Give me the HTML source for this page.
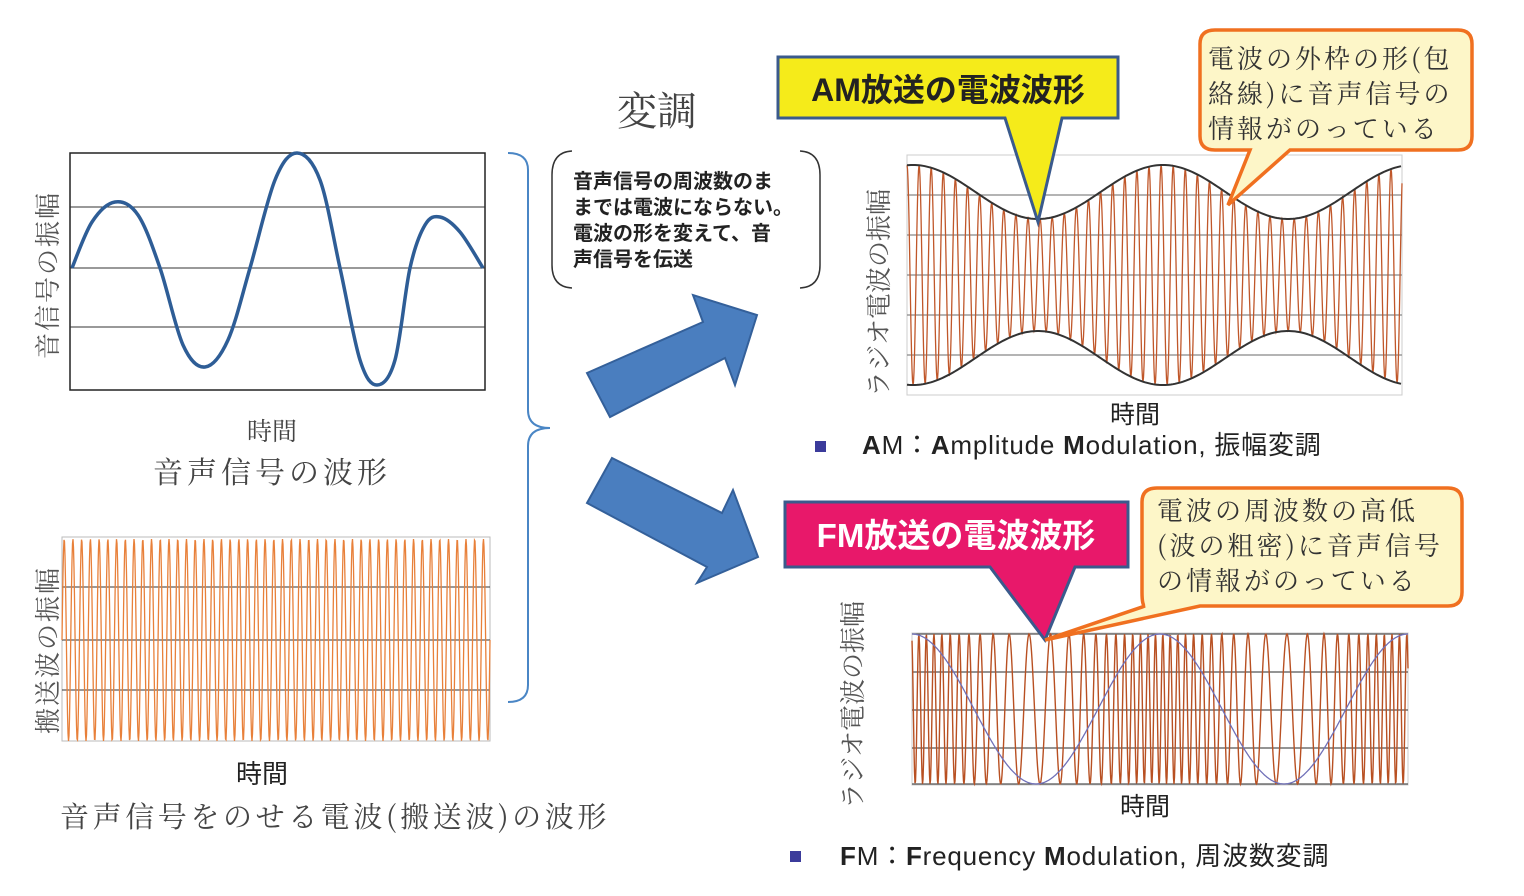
<!DOCTYPE html>
<html><head><meta charset="utf-8"><style>
body{margin:0;background:#fff;width:1524px;height:896px;overflow:hidden}
svg{display:block}
text{font-family:"Liberation Sans","Noto Sans CJK JP",sans-serif}
.s{font-family:"Noto Serif CJK SC","Noto Sans CJK JP",serif}
</style></head><body>
<svg id="sv" width="1524" height="896" xmlns="http://www.w3.org/2000/svg">
<rect x="70" y="153" width="415" height="237" fill="#fff" stroke="#222" stroke-width="1.5"/>
<g stroke="#333" stroke-width="1"><line x1="70" y1="207" x2="485" y2="207"/><line x1="70" y1="268" x2="485" y2="268"/><line x1="70" y1="327" x2="485" y2="327"/></g>
<path id="p1" fill="none" stroke="#2e5d96" stroke-width="3.5"/>
<text class="s" x="57" y="275" font-size="26" fill="#555" transform="rotate(-90 57 275)" text-anchor="middle" letter-spacing="2">音信号の振幅</text>
<text class="s" x="272" y="440" font-size="25" fill="#444" text-anchor="middle">時間</text>
<text class="s" x="272" y="483" font-size="30" fill="#444" text-anchor="middle" letter-spacing="4">音声信号の波形</text>
<rect x="62" y="537" width="428" height="204" fill="#fff" stroke="#bbb" stroke-width="1"/>
<g stroke="#333" stroke-width="1"><line x1="62" y1="587" x2="490" y2="587"/><line x1="62" y1="640" x2="490" y2="640"/><line x1="62" y1="690" x2="490" y2="690"/></g>
<path id="p2" fill="none" stroke="#e8803a" stroke-width="1.3"/>
<text class="s" x="57" y="650" font-size="26" fill="#555" transform="rotate(-90 57 650)" text-anchor="middle" letter-spacing="2">搬送波の振幅</text>
<text x="262" y="783" font-size="26" fill="#222" text-anchor="middle">時間</text>
<text class="s" x="60" y="827" font-size="29" fill="#444" letter-spacing="3.6">音声信号をのせる電波(搬送波)の波形</text>
<path d="M508 153 Q528 153 528 170 L528 410 Q528 428 550 428 Q528 428 528 446 L528 685 Q528 702 508 702" fill="none" stroke="#4a86c5" stroke-width="2"/>
<text class="s" x="657" y="125" font-size="40" fill="#444" text-anchor="middle">変調</text>
<path d="M572 151 Q552 152 552 175 L552 265 Q552 287 572 288 M800 151 Q820 152 820 175 L820 265 Q820 287 800 288" fill="none" stroke="#333" stroke-width="1.5"/>
<g font-size="20" fill="#222" font-weight="bold"><text x="573" y="188">音声信号の周波数のま</text><text x="573" y="214">までは電波にならない。</text><text x="573" y="240">電波の形を変えて、音</text><text x="573" y="266">声信号を伝送</text></g>
<polygon points="587,373 703,322 693,295 757,315 735,385 725,358 610,417" fill="#4a7ebf" stroke="#34609a" stroke-width="2"/>
<polygon points="612,458 722,513 733,490 758,557 697,583 707,567 587,503" fill="#4a7ebf" stroke="#34609a" stroke-width="2"/>
<rect x="907" y="155" width="495" height="240" fill="#fff" stroke="#ccc"/>
<g stroke="#888" stroke-width="1.2"><line x1="907" y1="195" x2="1402" y2="195"/><line x1="907" y1="235" x2="1402" y2="235"/><line x1="907" y1="275" x2="1402" y2="275"/><line x1="907" y1="315" x2="1402" y2="315"/><line x1="907" y1="355" x2="1402" y2="355"/></g>
<path id="p3" fill="none" stroke="#c0572a" stroke-width="1.3"/>
<path id="p4" fill="none" stroke="#333" stroke-width="2"/>
<text class="s" x="888" y="293" font-size="26" fill="#555" transform="rotate(-90 888 293)" text-anchor="middle">ラジオ電波の振幅</text>
<text x="1135" y="423" font-size="25" fill="#222" text-anchor="middle">時間</text>
<rect x="815" y="441" width="11" height="11" fill="#3b3b9b"/>
<text x="862" y="454" font-size="26" fill="#222" letter-spacing="0.8"><tspan font-weight="bold">A</tspan>M：<tspan font-weight="bold">A</tspan>mplitude <tspan font-weight="bold">M</tspan>odulation, 振幅変調</text>
<path d="M778 57 H1118 V118 H1062 L1038 222 L1005 118 H778 Z" fill="#f5eb1a" stroke="#3a5a8c" stroke-width="3"/>
<text x="948" y="101" font-size="32" font-weight="bold" fill="#222" text-anchor="middle">AM放送の電波波形</text>
<path d="M1215 30 H1458 Q1472 30 1472 44 V136 Q1472 150 1458 150 H1290 L1228 205 L1250 150 H1215 Q1200 150 1200 136 V44 Q1200 30 1215 30 Z" fill="#fdf6c8" stroke="#f07020" stroke-width="3.5"/>
<g font-size="26" fill="#333" letter-spacing="3"><text x="1208" y="68" class="s">電波の外枠の形(包</text><text x="1208" y="103" class="s">絡線)に音声信号の</text><text x="1208" y="138" class="s">情報がのっている</text></g>
<rect x="912" y="633" width="496" height="152" fill="#fff" stroke="#ccc"/>
<g stroke="#555" stroke-width="1.2"><line x1="912" y1="672" x2="1408" y2="672"/><line x1="912" y1="710" x2="1408" y2="710"/><line x1="912" y1="748" x2="1408" y2="748"/><line x1="912" y1="634" x2="1408" y2="634"/><line x1="912" y1="784" x2="1408" y2="784"/></g>
<path id="p5" fill="none" stroke="#b85022" stroke-width="1.4"/>
<path id="p6" fill="none" stroke="#7070b8" stroke-width="1.3"/>
<text class="s" x="862" y="705" font-size="26" fill="#555" transform="rotate(-90 862 705)" text-anchor="middle">ラジオ電波の振幅</text>
<text x="1145" y="815" font-size="25" fill="#222" text-anchor="middle">時間</text>
<rect x="790" y="851" width="11" height="11" fill="#3b3b9b"/>
<text x="840" y="865" font-size="26" fill="#222" letter-spacing="0.8"><tspan font-weight="bold">F</tspan>M：<tspan font-weight="bold">F</tspan>requency <tspan font-weight="bold">M</tspan>odulation, 周波数変調</text>
<path d="M785 502 H1128 V567 H1075 L1045 640 L990 567 H785 Z" fill="#e8186a" stroke="#3a5a8c" stroke-width="3"/>
<text x="956" y="547" font-size="33" font-weight="bold" fill="#fff" text-anchor="middle">FM放送の電波波形</text>
<path d="M1157 488 H1448 Q1462 488 1462 502 V592 Q1462 606 1448 606 H1200 L1045 640 L1145 606 Q1142 606 1142 592 V502 Q1142 488 1157 488 Z" fill="#fdf6c8" stroke="#f07020" stroke-width="3.5"/>
<g font-size="26" fill="#333" letter-spacing="3"><text class="s" x="1157" y="520">電波の周波数の高低</text><text class="s" x="1157" y="555">(波の粗密)に音声信号</text><text class="s" x="1157" y="590">の情報がのっている</text></g>
</svg>
<script>
function cr(pts){let d="M"+pts[0][0]+" "+pts[0][1];for(let i=0;i<pts.length-1;i++){const p0=pts[i-1]||pts[i],p1=pts[i],p2=pts[i+1],p3=pts[i+2]||p2;d+=" C"+(p1[0]+(p2[0]-p0[0])/6).toFixed(1)+" "+(p1[1]+(p2[1]-p0[1])/6).toFixed(1)+" "+(p2[0]-(p3[0]-p1[0])/6).toFixed(1)+" "+(p2[1]-(p3[1]-p1[1])/6).toFixed(1)+" "+p2[0]+" "+p2[1];}return d;}
document.getElementById('p1').setAttribute('d',cr([[72,268],[92,222],[115,202],[138,215],[160,268],[183,345],[205,367],[228,340],[250,268],[275,180],[297,153],[320,180],[340,268],[360,360],[377,385],[395,360],[410,268],[425,225],[440,217],[460,232],[483,268]]));
let d="";for(let x=62;x<=490;x+=0.5){const y=640-101*Math.sin((x-62)/428*2*Math.PI*49);d+=(x==62?"M":"L")+x+" "+y.toFixed(1);}
document.getElementById('p2').setAttribute('d',d);
function env(x){return 83+27*Math.cos((x-907-131)/250*2*Math.PI+Math.PI);}
d="";for(let x=907;x<=1402;x+=0.5){const a=env(x);d+=(x==907?"M":"L")+x+" "+(275-a*Math.cos((x-907)/12.1*2*Math.PI)).toFixed(1);}
document.getElementById('p3').setAttribute('d',d);
let t="",b="";for(let x=907;x<=1402;x+=2){t+=(x==907?"M":"L")+x+" "+(275-env(x)).toFixed(1);b+=(x==907?"M":"L")+x+" "+(275+env(x)).toFixed(1);}
document.getElementById('p4').setAttribute('d',t+" "+b);
d="";let m="",ph=0;for(let x=912;x<=1408;x+=0.5){const c=Math.cos((x-912)/248*2*Math.PI);const f=1/11+0.045*c;ph+=f*0.5*2*Math.PI;d+=(x==912?"M":"L")+x+" "+(709-75*Math.cos(ph)).toFixed(1);m+=(x==912?"M":"L")+x+" "+(709-75*c).toFixed(1);}
document.getElementById('p5').setAttribute('d',d);document.getElementById('p6').setAttribute('d',m);
</script>
</body></html>
